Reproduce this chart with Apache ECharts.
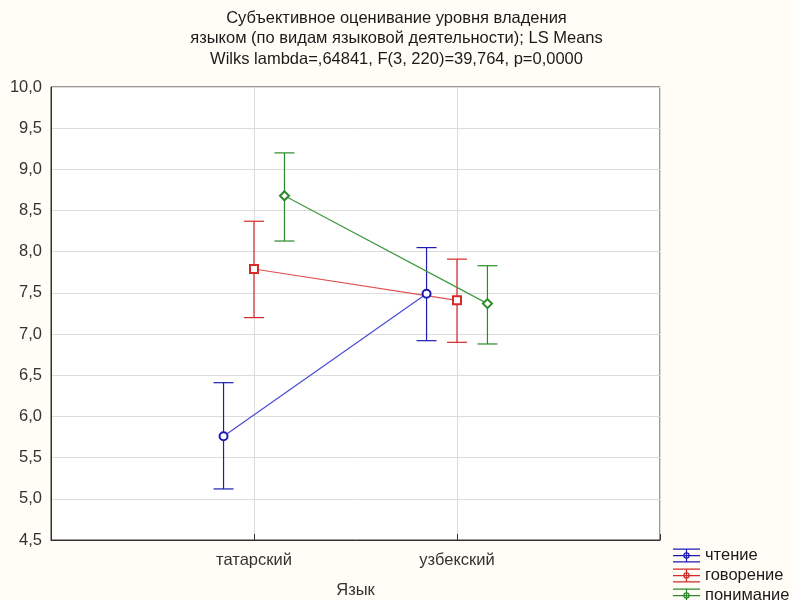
<!DOCTYPE html>
<html>
<head>
<meta charset="utf-8">
<script src="https://cdn.jsdelivr.net/npm/echarts@6/dist/echarts.min.js"></script>
<style>
  html, body { margin: 0; padding: 0; background: #fffdf6; }
  #chart { width: 793px; height: 600px; }
</style>
</head>
<body>
<div id="chart"></div>
<script>
// категории и средние значения (LS Means) с доверительными интервалами
const categories = ['татарский', 'узбекский'];
const seriesNames = ['чтение', 'говорение', 'понимание'];

const readMean = [5.76, 7.49];
const readLow = [5.12, 6.92];
const readHigh = [6.41, 8.05];

const speakMean = [7.79, 7.41];
const speakLow = [7.20, 6.90];
const speakHigh = [8.37, 7.91];

const underMean = [8.68, 7.37];
const underLow = [8.13, 6.88];
const underHigh = [9.20, 7.83];

const yTicks = [4.5, 5.0, 5.5, 6.0, 6.5, 7.0, 7.5, 8.0, 8.5, 9.0, 9.5, 10.0];

const colors = ['#1c1cb4', '#d42a2a', '#2a8a2a'];
const lineColors = ['#4a4ad8', '#e05050', '#3f9a3f'];
const symbols = ['emptyCircle', 'emptyRect', 'emptyDiamond'];
const offsets = [-0.15, 0, 0.15];

const means = [readMean, speakMean, underMean];
const lows = [readLow, speakLow, underLow];
const highs = [readHigh, speakHigh, underHigh];

const FONT = 'Liberation Sans, Arial, sans-serif';
const FS = 16.5;

// иконка легенды в виде "усов" с кольцом-маркером
const legendIcon = 'path://M0,0H27V1.3H0Z M0,6.4H27V7.7H0Z M0,12.7H27V14H0Z M12.9,0H14.1V14H12.9Z ' +
  'M16.7,7A3.2,3.2 0 0,1 10.3,7A3.2,3.2 0 0,1 16.7,7Z M15.5,7A2,2 0 0,0 11.5,7A2,2 0 0,0 15.5,7Z';

const chart = echarts.init(document.getElementById('chart'));

const series = [];
seriesNames.forEach(function (name, s) {
  const errData = categories.map(function (c, i) {
    return [i + 1 + offsets[s], lows[s][i], highs[s][i]];
  });
  series.push({
    name: name + ' ДИ',
    type: 'custom',
    silent: true,
    z: 3,
    renderItem: function (params, api) {
      const x = api.value(0);
      const lo = api.coord([x, api.value(1)]);
      const hi = api.coord([x, api.value(2)]);
      const w = 10;
      const style = { stroke: colors[s], lineWidth: 1.2, fill: null };
      return {
        type: 'group',
        children: [
          { type: 'line', shape: { x1: lo[0], y1: lo[1], x2: hi[0], y2: hi[1] }, style: style },
          { type: 'line', shape: { x1: hi[0] - w, y1: hi[1], x2: hi[0] + w, y2: hi[1] }, style: style },
          { type: 'line', shape: { x1: lo[0] - w, y1: lo[1], x2: lo[0] + w, y2: lo[1] }, style: style }
        ]
      };
    },
    encode: { x: 0, y: [1, 2] },
    data: errData
  });
  series.push({
    name: name,
    type: 'line',
    z: 4,
    symbol: symbols[s],
    symbolSize: s === 2 ? 9 : 8,
    lineStyle: { color: lineColors[s], width: 1.2 },
    itemStyle: { color: colors[s], borderWidth: 1.2 },
    data: categories.map(function (c, i) {
      return [i + 1 + offsets[s], means[s][i]];
    })
  });
});

// отдельная легенда на каждую строку, чтобы не переносилась в колонку
const legends = seriesNames.map(function (n, s) {
  return {
    orient: 'vertical',
    left: 673,
    top: 547 + s * 20,
    padding: 0,
    itemWidth: 27,
    itemHeight: 14,
    icon: legendIcon,
    textStyle: { fontSize: FS, color: '#1a1a1a', fontFamily: FONT },
    data: [{ name: n, itemStyle: { color: colors[s], borderWidth: 0 } }]
  };
});

const option = {
  backgroundColor: '#fffdf6',
  animation: false,
  textStyle: { fontFamily: FONT },
  title: {
    text: 'Субъективное оценивание уровня владения\nязыком (по видам языковой деятельности); LS Means\nWilks lambda=,64841, F(3, 220)=39,764, p=0,0000',
    left: 'center',
    top: 3,
    textStyle: {
      fontSize: FS,
      fontWeight: 'normal',
      color: '#1a1a1a',
      lineHeight: 20.5,
      fontFamily: FONT
    }
  },
  legend: legends,
  grid: {
    left: 51,
    right: 133,
    top: 87,
    bottom: 60,
    outerBoundsMode: 'none',
    containLabel: false,
    show: true,
    backgroundColor: '#ffffff',
    borderColor: '#333333',
    borderWidth: 1
  },
  xAxis: {
    type: 'value',
    min: 0,
    max: 3,
    interval: 1,
    name: 'Язык',
    nameLocation: 'middle',
    nameGap: 42,
    nameTextStyle: { fontSize: FS, color: '#333' },
    axisLine: { lineStyle: { color: '#333', width: 1 } },
    axisTick: { inside: true, length: 6, lineStyle: { color: '#333' } },
    axisLabel: {
      fontSize: FS,
      color: '#333',
      margin: 12,
      formatter: function (v) {
        return categories[v - 1] || '';
      }
    },
    splitLine: { lineStyle: { color: '#dcdcdc' } }
  },
  yAxis: {
    type: 'value',
    min: 4.5,
    max: 10,
    interval: 0.5,
    axisLine: { show: true, lineStyle: { color: '#333', width: 1 } },
    axisTick: { show: false },
    axisLabel: {
      fontSize: FS,
      color: '#333',
      margin: 9,
      formatter: function (v) {
        const t = yTicks.find(function (k) { return Math.abs(k - v) < 1e-6; });
        return t === undefined ? '' : t.toFixed(1).replace('.', ',');
      }
    },
    splitLine: { lineStyle: { color: '#dcdcdc' } }
  },
  series: series
};

chart.setOption(option);
</script>
</body>
</html>
